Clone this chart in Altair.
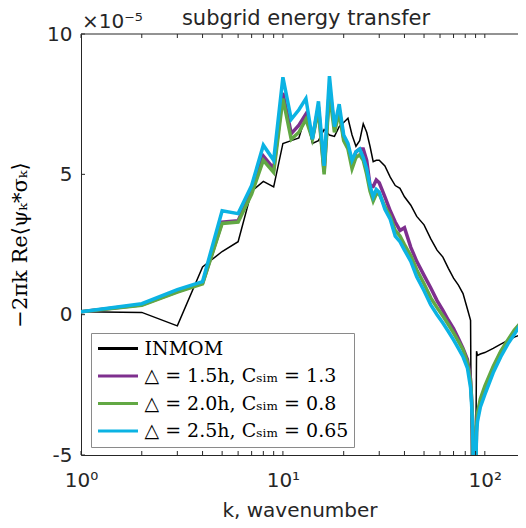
import altair as alt
import pandas as pd

# wavenumbers
k = [1, 2, 3, 4, 5, 6, 7, 8, 9, 10, 11, 12, 13, 14, 15, 16, 17, 18, 19, 20,
     21, 22, 23, 24, 25, 26, 27, 28, 29, 30, 32, 34, 36, 38, 40, 43, 46, 50, 54, 58,
     62, 66, 70, 74, 78, 82, 85, 86, 87, 88, 90, 91, 92, 95, 100, 110, 120, 130, 140, 150, 160]

# values in units of 1e-5
inmom = [0.1, 0.08, -0.4, 1.7, 2.25, 2.6, 4.4, 4.75, 4.55, 6.1, 6.2, 6.3, 7.1, 6.1, 6.2, 6.6, 6.4, 6.35, 6.7, 6.85,
         7.0, 6.4, 6.0, 6.2, 6.8, 6.5, 6.0, 5.45, 5.5, 5.5, 5.3, 4.9, 4.6, 4.5, 4.2, 3.9, 3.5, 3.2, 2.7, 2.3,
         2.05, 1.65, 1.3, 1.05, 0.75, 0.2, -0.2, -6.0, -6.0, -6.0, -6.0, -1.3, -1.45, -1.4, -1.35, -1.2, -1.05, -0.92, -0.8, -0.72, -0.65]
d15 = [0.1, 0.35, 0.82, 1.12, 3.3, 3.35, 4.4, 5.65, 5.2, 7.9, 6.45, 6.75, 7.15, 6.3, 7.4, 5.1, 8.1, 6.7, 7.3, 6.3,
       6.0, 5.4, 5.8, 5.9, 5.9, 5.5, 4.6, 4.57, 4.8, 4.7, 4.2, 3.7, 3.3, 3.0, 3.1, 2.4, 1.9, 1.4, 0.95, 0.5,
       0.15, -0.2, -0.5, -0.85, -1.2, -1.6, -2.3, -3.0, -3.8, -6.0, -6.0, -4.0, -3.6, -3.1, -2.65, -1.9, -1.35, -0.95, -0.6, -0.3, -0.1]
d20 = [0.1, 0.33, 0.8, 1.1, 3.25, 3.3, 4.3, 5.5, 5.07, 7.7, 6.25, 6.5, 6.96, 6.25, 7.3, 5.0, 7.9, 6.5, 7.2, 6.2,
       5.9, 5.2, 5.6, 5.7, 5.5, 5.0, 4.4, 4.05, 4.3, 4.3, 3.85, 3.5, 3.0, 2.8, 2.5, 2.1, 1.6, 1.1, 0.6, 0.25,
       -0.05, -0.35, -0.65, -0.95, -1.25, -1.7, -2.4, -3.0, -3.8, -6.0, -6.0, -4.0, -3.5, -3.0, -2.55, -1.85, -1.3, -0.9, -0.55, -0.3, -0.1]
d25 = [0.1, 0.39, 0.89, 1.18, 3.7, 3.6, 4.6, 6.04, 5.5, 8.46, 6.96, 7.3, 7.7, 6.25, 7.6, 5.3, 8.5, 6.7, 7.5, 6.4,
       6.1, 5.5, 5.8, 5.9, 5.6, 5.2, 4.6, 4.2, 4.46, 4.36, 3.75, 3.4, 2.8, 2.6, 2.3, 1.9, 1.35, 0.85, 0.35, 0.0,
       -0.3, -0.6, -0.9, -1.2, -1.5, -1.9, -2.6, -3.2, -4.0, -6.0, -6.0, -4.2, -3.8, -3.3, -2.85, -2.07, -1.5, -1.05, -0.7, -0.35, -0.1]

series_names = ["INMOM",
                "△ = 1.5h, Cₛᵢₘ = 1.3",
                "△ = 2.0h, Cₛᵢₘ = 0.8",
                "△ = 2.5h, Cₛᵢₘ = 0.65"]
series_vals = [inmom, d15, d20, d25]
colors = ["#000000", "#7E2F8E", "#62A844", "#0BB3E3"]
widths = [1.5, 3.5, 3.5, 3.5]

x_major = [1, 10, 100]
x_minor = [2, 3, 4, 5, 6, 7, 8, 9, 20, 30, 40, 50, 60, 70, 80, 90]
y_ticks = [-5, 0, 5, 10]

chart_title = "subgrid energy transfer"
exponent_text = "×10⁻⁵"

W, H = 437, 421
AX = "#262626"

rows = []
for name, vals in zip(series_names, series_vals):
    for kk, v in zip(k, vals):
        rows.append({"k": kk, "v": v, "series": name})
df = pd.DataFrame(rows)

xscale = alt.Scale(type="log", domain=[1, 146], nice=False)
yscale = alt.Scale(domain=[-5, 10], nice=False)
cscale = alt.Scale(domain=series_names, range=colors)

x_axis = alt.Axis(values=x_major,
                  labelExpr="datum.value == 1 ? '10⁰' : datum.value == 10 ? '10¹' : '10²'",
                  ticks=False, grid=False, title="k, wavenumber",
                  labelFont="DejaVu Sans", labelFontSize=20, labelColor=AX,
                  titleFont="DejaVu Sans", titleFontSize=20, titleColor=AX, titleFontWeight="normal",
                  titleY=61, titleBaseline="alphabetic",
                  domainColor=AX, domainWidth=1, labelPadding=15, labelFlush=False)
y_axis = alt.Axis(values=y_ticks, labelExpr="toString(datum.value)",
                  ticks=False, grid=False, title="−2πk Re⟨ψₖ*σₖ⟩",
                  labelFont="DejaVu Sans", labelFontSize=20, labelColor=AX,
                  titleFont="DejaVu Serif", titleFontSize=21, titleColor="#000000", titleFontWeight="normal",
                  titleAngle=270, titleX=-61, titleY=H / 2, titleAlign="center", titleBaseline="middle",
                  domainColor=AX, domainWidth=1, labelPadding=9, labelFlush=False)

legend = alt.Legend(title=None, orient="none", legendX=10, legendY=299, direction="vertical",
                    fillColor="white", strokeColor="#8a8a8a", padding=5.5,
                    symbolType="stroke", symbolSize=1600, symbolStrokeWidth=3,
                    labelFont="DejaVu Serif", labelFontSize=19, labelColor="#000000",
                    clipHeight=20, rowPadding=7.5, labelLimit=400, labelOffset=5)

layers = []
for i, name in enumerate(series_names):
    layers.append(
        alt.Chart(df).transform_filter(alt.datum.series == name)
        .mark_line(clip=True, strokeWidth=widths[i])
        .encode(x=alt.X("k:Q", scale=xscale, axis=x_axis),
                y=alt.Y("v:Q", scale=yscale, axis=y_axis),
                color=alt.Color("series:N", scale=cscale, legend=legend))
    )

xt = pd.DataFrame({"k": x_major + x_minor})
yt = pd.DataFrame({"v": y_ticks})
one = pd.DataFrame({"a": [0]})

bottom_ticks = alt.Chart(xt).mark_rule(color=AX, strokeWidth=1).encode(
    x=alt.X("k:Q", scale=xscale, axis=x_axis), y=alt.value(H), y2=alt.value(H - 4))
top_ticks = alt.Chart(xt).mark_rule(color=AX, strokeWidth=1).encode(
    x=alt.X("k:Q", scale=xscale, axis=x_axis), y=alt.value(0), y2=alt.value(4))
left_ticks = alt.Chart(yt).mark_rule(color=AX, strokeWidth=1).encode(
    y=alt.Y("v:Q", scale=yscale, axis=y_axis), x=alt.value(0), x2=alt.value(4))
top_border = alt.Chart(one).mark_rule(color=AX, strokeWidth=1).encode(
    x=alt.value(0), x2=alt.value(W), y=alt.value(0))
exp_text = alt.Chart(one).mark_text(text=exponent_text, align="left", baseline="alphabetic",
                                    font="DejaVu Sans", fontSize=20, color=AX).encode(
    x=alt.value(1), y=alt.value(-6))
title_text = alt.Chart(one).mark_text(text=chart_title, align="center", baseline="alphabetic",
                                      font="DejaVu Sans", fontSize=21, color=AX).encode(
    x=alt.value(225), y=alt.value(-9))

chart = alt.layer(*layers, bottom_ticks, top_ticks, left_ticks, top_border, exp_text, title_text).properties(
    width=W, height=H,
    padding={"left": 73, "top": 26, "right": 0, "bottom": 65},
    autosize=alt.AutoSizeParams(type="none"),
).configure_view(stroke=None)

chart.save("out.html", embed_options={"renderer": "svg", "actions": False})
